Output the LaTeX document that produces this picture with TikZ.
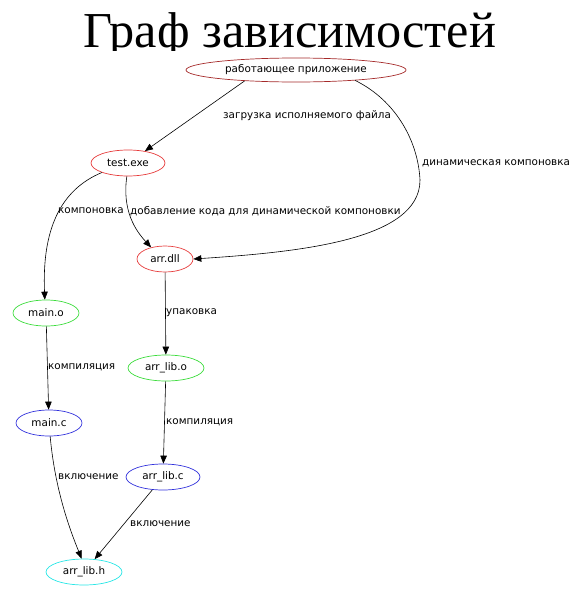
\documentclass[tikz,border=0pt]{standalone}
\usepackage{fontspec}
\setmainfont{DejaVu Sans}
\newfontfamily\titlefont{Liberation Serif}
\usetikzlibrary{shapes.geometric,arrows.meta}
\definecolor{cbrown}{RGB}{165,42,42}
\definecolor{cred}{RGB}{230,60,60}
\definecolor{cgreen}{RGB}{60,220,60}
\definecolor{cblue}{RGB}{50,50,220}
\definecolor{ccyan}{RGB}{40,230,230}
\tikzset{
  gnode/.style={ellipse,draw,line width=0.7pt,inner sep=0pt,font=\fontsize{10.4}{12}\selectfont},
  glabel/.style={anchor=west,inner sep=1pt,font=\fontsize{10.4}{12}\selectfont},
  gedge/.style={line width=0.6pt,-{Triangle[length=8pt,width=6.5pt]}},
}
\begin{document}
\begin{tikzpicture}[x=1pt,y=-1pt]
\useasboundingbox (0,0) rectangle (576,592);
\begin{scope}
\clip (0,0) rectangle (576,50);
\node[anchor=base,inner sep=0pt,font=\titlefont\fontsize{50.3}{60}\selectfont] (title) at (290,47) {Граф зависимостей};
\end{scope}
\node[gnode,draw=cbrown,minimum width=220pt,minimum height=24pt] (app) at (296,70) {работающее приложение};
\node[gnode,draw=cred,minimum width=74pt,minimum height=26pt] (test) at (128,163) {test.exe};
\node[gnode,draw=cred,minimum width=56pt,minimum height=26pt] (dll) at (165,259) {arr.dll};
\node[gnode,draw=cgreen,minimum width=66pt,minimum height=26pt] (maino) at (46,313) {main.o};
\node[gnode,draw=cgreen,minimum width=76pt,minimum height=26pt] (libo) at (166,368) {arr\_lib.o};
\node[gnode,draw=cblue,minimum width=66pt,minimum height=26pt] (mainc) at (49,423) {main.c};
\node[gnode,draw=cblue,minimum width=74pt,minimum height=26pt] (libc) at (163,477) {arr\_lib.c};
\node[gnode,draw=ccyan,minimum width=76pt,minimum height=26pt] (libh) at (84,572) {arr\_lib.h};

\draw[gedge] (app.192) -- (test);
\draw[gedge] (app.-10) .. controls (395,100) and (418,140) .. (420,180)
  .. controls (420,240) and (300,252) .. (dll.0);
\draw[gedge] (test.200) .. controls (60,190) and (42,230) .. (maino.95);
\draw[gedge] (test.265) .. controls (122,210) and (135,230) .. (dll.140);
\draw[gedge] (dll) -- (libo);
\draw[gedge] (maino) -- (mainc);
\draw[gedge] (libo) -- (libc);
\draw[gedge] (mainc.-85) .. controls (55,490) and (70,530) .. (libh.100);
\draw[gedge] (libc) -- (libh);

\node[glabel] (l1) at (222,116) {загрузка исполняемого файла};
\node[glabel] (l2) at (421,163) {динамическая компоновка};
\node[glabel] (l3) at (57,211) {компоновка};
\node[glabel] (l4) at (129,211) {добавление кода для динамической компоновки};
\node[glabel] (l5) at (165,313) {упаковка};
\node[glabel] (l6) at (47,367) {компиляция};
\node[glabel] (l7) at (165,422) {компиляция};
\node[glabel] (l8) at (57,477) {включение};
\node[glabel] (l9) at (129,524) {включение};
\end{tikzpicture}
\end{document}
